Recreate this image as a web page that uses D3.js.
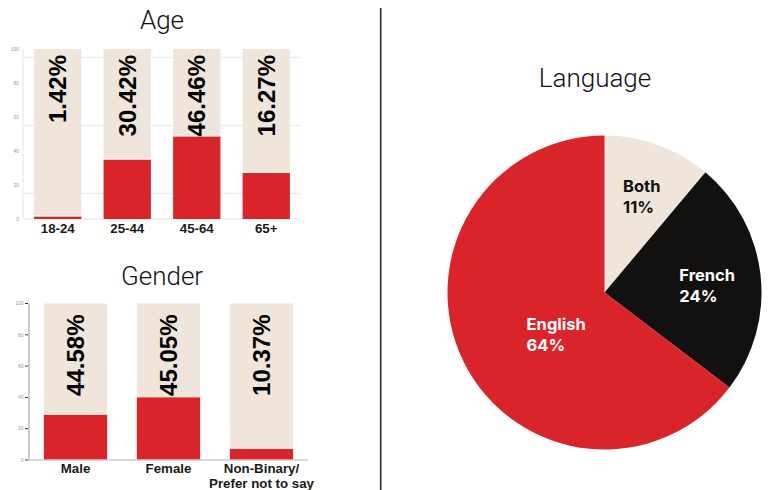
<!DOCTYPE html>
<html>
<head>
<meta charset="utf-8">
<script src="https://cdn.jsdelivr.net/npm/d3@7"></script>
<style>
  html, body { margin: 0; padding: 0; background: #fff; }
  svg { display: block; font-family: "Liberation Sans", Arial, sans-serif; }
  .title { font-family: Roboto, "Open Sans", sans-serif; font-weight: 300; font-size: 26px; fill: #111; }
  .tick-lbl { font-size: 5px; fill: #999; }
  .cat { font-size: 13.3px; font-weight: bold; fill: #1a1a1a; }
  .pct { font-size: 24px; font-weight: bold; fill: #000; }
  .slice-lbl { font-family: Inter, "Noto Sans", sans-serif; font-weight: 700; font-size: 16.5px; }
</style>
</head>
<body>
<div id="chart"></div>
<script>
// data
const ageCats = ["18-24", "25-44", "45-64", "65+"];
const ageShare = [1.42, 30.42, 46.46, 16.27];   // printed labels
const ageBar = [1.5, 35, 48.6, 27.2];           // red bar heights as drawn
const ageGrid = [15, 55, 95];

const genderCats = ["Male", "Female", "Non-Binary/|Prefer not to say"];
const genderShare = [44.58, 45.05, 10.37];
const genderBar = [28.8, 40, 7];

const yTicks = [0, 20, 40, 60, 80, 100];

const langCats = ["Both", "French", "English"];
const langShare = [11, 24, 64];

const RED = "#d9252a", BEIGE = "#efe5da", BLACK = "#121110";
const W = 769, H = 490;

const svg = d3.select("#chart").append("svg").attr("width", W).attr("height", H);

// ---- Age panel
(function () {
  const g = svg.append("g");
  const x = d3.scaleBand().domain(ageCats).range([23, 301]).paddingInner(0.32).paddingOuter(0.16);
  const y = d3.scaleLinear().domain([0, 100]).range([219, 49]);

  g.append("text").attr("class", "title").attr("x", 162).attr("y", 29).attr("text-anchor", "middle").text("Age");

  g.selectAll(".grid").data(ageGrid).join("line")
    .attr("x1", 21).attr("x2", 301).attr("y1", (d) => y(d)).attr("y2", (d) => y(d))
    .attr("stroke", "#eeeeee").attr("stroke-width", 1.5);
  g.append("line").attr("x1", 23).attr("x2", 23).attr("y1", y(100)).attr("y2", y(0)).attr("stroke", "#eeeeee").attr("stroke-width", 1.5);
  g.append("line").attr("x1", 23).attr("x2", 301).attr("y1", y(0)).attr("y2", y(0)).attr("stroke", "#eeeeee").attr("stroke-width", 1.5);
  g.selectAll(".tick-lbl").data(yTicks).join("text").attr("class", "tick-lbl")
    .attr("x", 19).attr("y", (d) => y(d)).attr("dy", "0.35em").attr("text-anchor", "end").text((d) => d);

  g.selectAll(".bg").data(ageCats).join("rect")
    .attr("x", (d) => x(d)).attr("width", x.bandwidth()).attr("y", y(100)).attr("height", y(0) - y(100)).attr("fill", BEIGE);
  g.selectAll(".fg").data(ageBar).join("rect")
    .attr("x", (d, i) => x(ageCats[i])).attr("width", x.bandwidth())
    .attr("y", (d) => y(d)).attr("height", (d) => y(0) - y(d)).attr("fill", RED);
  g.selectAll(".sep").data(ageBar).join("line")
    .attr("x1", (d, i) => x(ageCats[i])).attr("x2", (d, i) => x(ageCats[i]) + x.bandwidth())
    .attr("y1", (d) => y(d) - 0.5).attr("y2", (d) => y(d) - 0.5).attr("stroke", "#fff").attr("stroke-width", 1);

  g.selectAll(".pct").data(ageShare).join("text").attr("class", "pct")
    .attr("transform", (d, i) => `translate(${x(ageCats[i]) + x.bandwidth() / 2},${y(100) + 6}) rotate(-90)`)
    .attr("text-anchor", "end").attr("dy", "0.36em").text((d) => d.toFixed(2) + "%");

  g.selectAll(".cat").data(ageCats).join("text").attr("class", "cat")
    .attr("x", (d) => x(d) + x.bandwidth() / 2).attr("y", 233).attr("text-anchor", "middle").text((d) => d);
})();

// ---- Gender panel
(function () {
  const g = svg.append("g");
  const x = d3.scaleBand().domain(genderCats).range([29, 308]).paddingInner(0.32).paddingOuter(0.16);
  const y = d3.scaleLinear().domain([0, 100]).range([460, 303.5]);

  g.append("text").attr("class", "title").attr("x", 162).attr("y", 285).attr("text-anchor", "middle").text("Gender");

  g.selectAll(".bg").data(genderCats).join("rect")
    .attr("x", (d) => x(d)).attr("width", x.bandwidth()).attr("y", y(100)).attr("height", y(0) - y(100)).attr("fill", BEIGE);
  g.selectAll(".fg").data(genderBar).join("rect")
    .attr("x", (d, i) => x(genderCats[i])).attr("width", x.bandwidth())
    .attr("y", (d) => y(d)).attr("height", (d) => y(0) - y(d)).attr("fill", RED);

  g.append("line").attr("x1", 29).attr("x2", 308).attr("y1", y(0)).attr("y2", y(0)).attr("stroke", "#cccccc").attr("stroke-width", 1.5);
  g.append("line").attr("x1", 29).attr("x2", 29).attr("y1", y(100)).attr("y2", y(0) + 0.75).attr("stroke", "#cccccc").attr("stroke-width", 2);
  g.selectAll(".tk").data(yTicks).join("line")
    .attr("x1", 25).attr("x2", 28).attr("y1", (d) => y(d)).attr("y2", (d) => y(d)).attr("stroke", "#333").attr("stroke-width", 1);
  g.selectAll(".tick-lbl").data(yTicks).join("text").attr("class", "tick-lbl")
    .attr("x", 23.5).attr("y", (d) => y(d)).attr("dy", "0.35em").attr("text-anchor", "end").text((d) => d);

  g.selectAll(".pct").data(genderShare).join("text").attr("class", "pct")
    .attr("transform", (d, i) => `translate(${x(genderCats[i]) + x.bandwidth() / 2},${y(100) + 11}) rotate(-90)`)
    .attr("text-anchor", "end").attr("dy", "0.36em").text((d) => d.toFixed(2) + "%");

  const cat = g.selectAll(".cat").data(genderCats).join("text").attr("class", "cat")
    .attr("x", (d) => x(d) + x.bandwidth() / 2).attr("y", 473).attr("text-anchor", "middle");
  cat.selectAll("tspan").data((d) => d.split("|")).join("tspan")
    .attr("x", function () { return this.parentNode.getAttribute("x"); })
    .attr("dy", (d, i) => (i ? 14.5 : 0)).text((d) => d);
})();

// ---- divider
svg.append("line").attr("x1", 380.7).attr("x2", 380.7).attr("y1", 8).attr("y2", H).attr("stroke", "#2b2b2b").attr("stroke-width", 1.6);

// ---- Language pie
(function () {
  const cx = 604.5, cy = 292.5, r = 157;
  const g = svg.append("g").attr("transform", `translate(${cx},${cy})`);
  svg.append("text").attr("class", "title").attr("x", 595).attr("y", 87).attr("text-anchor", "middle").text("Language");

  const color = d3.scaleOrdinal().domain(langCats).range([BEIGE, BLACK, RED]);
  const txt = d3.scaleOrdinal().domain(langCats).range(["#111", "#fff", "#fff"]);
  const pie = d3.pie().sort(null).value((d) => d)(langShare);
  const arc = d3.arc().innerRadius(0).outerRadius(r);

  g.selectAll("path").data(pie).join("path").attr("d", arc).attr("fill", (d, i) => color(langCats[i]));

  // label placement (radius, angular nudge in degrees); block is centred on that point
  const labelR = [103, 103, 64];
  const labelTurn = [1, 2.2, -14.6];
  const lbl = g.selectAll(".slice-lbl").data(pie).join("text").attr("class", "slice-lbl")
    .attr("fill", (d, i) => txt(langCats[i]));
  lbl.append("tspan").text((d, i) => langCats[i]);
  lbl.append("tspan").text((d, i) => langShare[i] + "%");
  lbl.each(function (d, i) {
    const t = d3.select(this);
    const w = d3.max(t.selectAll("tspan").nodes(), (n) => n.getComputedTextLength());
    const a = (d.startAngle + d.endAngle) / 2 + (labelTurn[i] * Math.PI) / 180;
    const [px, py] = d3.pointRadial(a, labelR[i]);
    const x0 = px - w / 2;
    t.selectAll("tspan").attr("x", x0).attr("y", (e, j) => py - 4.5 + j * 21);
  });
})();
</script>
</body>
</html>
